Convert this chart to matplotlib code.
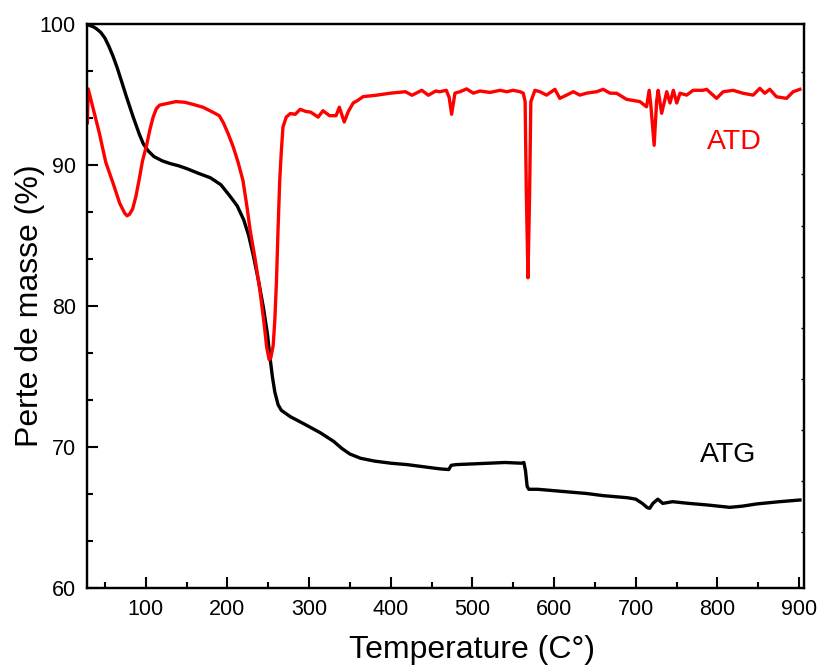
import numpy as np
import matplotlib
matplotlib.use('Agg')
import matplotlib.pyplot as plt
from matplotlib.ticker import MultipleLocator

plt.rcParams['font.family'] = ['Liberation Sans', 'DejaVu Sans']

# ATG (mass loss, black)
atg_t = np.array([28, 30, 36, 40, 45, 50, 55, 60, 65, 70, 76, 84, 92, 97, 103, 110, 120,
                  130, 140, 150, 165, 179, 192, 203, 212, 220, 226, 232, 238, 244, 249,
                  252, 255, 258, 262, 266, 277, 295, 314, 330, 340, 350, 363, 380, 400,
                  420, 440, 460, 471, 474, 480, 500, 520, 540, 560, 563, 565, 567, 569,
                  580, 600, 620, 640, 660, 680, 690, 700, 708, 714, 717, 721, 727, 733,
                  745, 765, 787, 815, 830, 848, 876, 901])
atg_v = np.array([99.95, 99.93, 99.8, 99.65, 99.4, 99.0, 98.4, 97.7, 96.9, 96.0, 94.9,
                  93.5, 92.2, 91.5, 91.0, 90.6, 90.3, 90.1, 89.95, 89.75, 89.4, 89.1,
                  88.6, 87.8, 87.1, 86.1, 85.0, 83.5, 81.8, 79.9, 78.0, 76.4, 75.0,
                  73.9, 73.0, 72.6, 72.15, 71.6, 71.0, 70.4, 69.9, 69.5, 69.2, 69.0,
                  68.85, 68.75, 68.6, 68.45, 68.4, 68.7, 68.75, 68.8, 68.85, 68.9,
                  68.85, 68.9, 68.3, 67.2, 67.0, 67.0, 66.9, 66.8, 66.7, 66.55, 66.45,
                  66.4, 66.3, 66.0, 65.7, 65.65, 66.0, 66.3, 66.0, 66.12, 66.0, 65.89,
                  65.72, 65.8, 65.96, 66.12, 66.24])

# ATD (red)
atd_t = np.array([28.5, 29.5, 33, 37, 43, 51, 60, 68, 74, 77, 80, 84, 88, 92, 96, 101,
                  105, 109, 113, 117, 125, 137, 148, 158, 170, 182, 190, 195, 201, 207,
                  213, 219, 224, 228, 234, 240, 245, 248, 251, 253, 256, 258, 260, 262,
                  264, 266, 268, 272, 277, 283, 289, 296, 302, 311, 317, 325, 333, 337,
                  343, 348, 354, 360, 366, 382, 400, 418, 426, 438, 446, 455, 460, 468,
                  471.5, 474.5, 478.6, 484.7, 492.9, 501, 509.2, 521.4, 533.7, 541.9,
                  549.9, 558.1, 562.2, 564.5, 566, 568, 570, 571.5, 576.5, 582.6, 590.8,
                  601, 607, 615.3, 623.4, 631.6, 639.8, 652, 660.1, 668.3, 676.5, 688.7,
                  705, 713.2, 716.4, 718.5, 722.5, 725.5, 727.4, 731.7, 737.9, 741.9,
                  746, 750.2, 754.2, 762.2, 770.3, 782.5, 786.7, 798.9, 807, 819.2,
                  831.4, 843.7, 851.9, 858, 864.1, 872.3, 884.6, 892.7, 900.9])
atd_v = np.array([93.0, 95.4, 94.6, 93.7, 92.3, 90.2, 88.7, 87.3, 86.6, 86.4, 86.5, 86.9,
                  87.8, 89.0, 90.3, 91.4, 92.5, 93.4, 94.0, 94.25, 94.35, 94.5, 94.45,
                  94.3, 94.1, 93.75, 93.5, 93.0, 92.2, 91.3, 90.2, 88.9, 87.0, 85.3,
                  83.3, 81.0, 78.7, 77.1, 76.2, 76.3, 77.2, 79.0, 81.7, 85.5, 88.9,
                  91.0, 92.7, 93.4, 93.65, 93.6, 93.95, 93.8, 93.75, 93.4, 93.85, 93.5,
                  93.5, 94.1, 93.05, 93.8, 94.4, 94.6, 94.85, 94.95, 95.1, 95.2, 94.95,
                  95.3, 94.95, 95.25, 95.2, 95.3, 94.8, 93.6, 95.1, 95.2, 95.4, 95.1,
                  95.25, 95.15, 95.3, 95.2, 95.3, 95.2, 95.1, 94.5, 88.0, 82.0, 88.0,
                  94.5, 95.3, 95.2, 94.96, 95.37, 94.73, 94.96, 95.2, 94.96, 95.1, 95.2,
                  95.37, 95.1, 95.09, 94.66, 94.5, 94.13, 95.3, 94.2, 91.4, 94.5, 95.3,
                  93.67, 95.2, 94.4, 95.3, 94.4, 95.09, 94.96, 95.3, 95.3, 95.37, 94.73,
                  95.2, 95.3, 95.09, 94.96, 95.44, 95.09, 95.37, 94.84, 94.73, 95.2,
                  95.37])

fig = plt.figure(figsize=(8.19, 6.68), dpi=100)
ax = fig.add_axes([0.1062, 0.1198, 0.8755, 0.8442])

ax.plot(atg_t, atg_v, color='black', lw=2.4)
ax.plot(atd_t, atd_v, color='red', lw=2.4)

ax.text(821, 91.6, 'ATD', color='red', fontsize=20.5, ha='center', va='center')
ax.text(813, 69.4, 'ATG', color='black', fontsize=20.5, ha='center', va='center')

ax.set_xlim(28, 906)
ax.set_ylim(60, 100)
ax.xaxis.set_major_locator(MultipleLocator(100))
ax.xaxis.set_minor_locator(MultipleLocator(50))
ax.yaxis.set_major_locator(MultipleLocator(10))
ax.yaxis.set_minor_locator(MultipleLocator(10 / 3))
ax.tick_params(which='major', direction='in', length=8, width=1.5, labelsize=15.5, pad=8)
ax.tick_params(which='minor', direction='in', length=4.5, width=1.5)
ax.tick_params(top=False, right=False, which='both')
for s in ax.spines.values():
    s.set_linewidth(1.6)

ax2 = ax.twinx()
ax2.set_ylim(-1.096, 9.945)
ax2.set_yticks(range(10))
ax2.tick_params(direction='in', length=2.5, width=1.0, labelright=False)
for s in ax2.spines.values():
    s.set_linewidth(1.6)

ax.set_xlabel('Temperature (C°)', fontsize=23)
ax.xaxis.set_label_coords(0.537, -0.083)
ax.set_ylabel('Perte de masse (%)', fontsize=23)
ax.yaxis.set_label_coords(-0.058, 0.5)

fig.savefig('out.png', dpi=100)
